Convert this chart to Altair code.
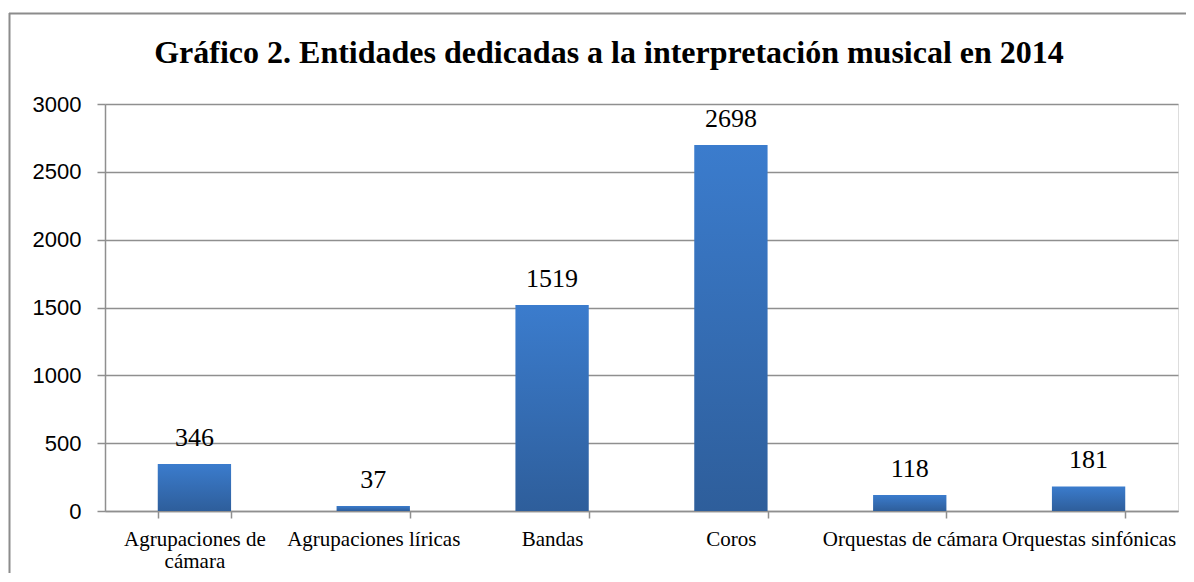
import altair as alt
import pandas as pd

categories = ["Agrupaciones de cámara", "Agrupaciones líricas", "Bandas", "Coros",
              "Orquestas de cámara", "Orquestas sinfónicas"]
values = [346, 37, 1519, 2698, 118, 181]
y_ticks = [0, 500, 1000, 1500, 2000, 2500, 3000]
title_text = "Gráfico 2. Entidades dedicadas a la interpretación musical en 2014"

df = pd.DataFrame({"cat": categories, "val": values})
one = pd.DataFrame({"a": [0]})

GRID = "#8f8f8f"
SERIF = "Liberation Serif"

x_enc = alt.X(
    "cat:N", sort=categories, title=None,
    scale=alt.Scale(paddingInner=0.59, paddingOuter=0.295),
    axis=alt.Axis(
        labelAngle=0, labelFont=SERIF, labelFontSize=21, labelColor="#000",
        labelBaseline="top", labelPadding=10, labelLineHeight=22, labelLimit=300,
        labelOverlap=False,
        tickBand="extent", tickSize=7, tickColor=GRID, tickWidth=1.5,
        domainColor=GRID, domainWidth=1.5, grid=False,
        labelExpr="datum.value == 'Agrupaciones de cámara' ? ['Agrupaciones de', 'cámara'] : datum.value",
    ),
)
y_enc = alt.Y(
    "val:Q", title=None,
    scale=alt.Scale(domain=[0, 3000], nice=False),
    axis=alt.Axis(
        values=y_ticks, format="d", labelFont="Liberation Sans", labelFontSize=22,
        labelColor="#000", labelPadding=16, tickSize=8, tickColor=GRID, tickWidth=1.5,
        domainColor=GRID, domainWidth=1.5, gridColor=GRID, gridWidth=1.5,
    ),
)

gradient = alt.LinearGradient(
    gradient="linear",
    stops=[alt.GradientStop(color="#3b7ccd", offset=0),
           alt.GradientStop(color="#2e5e9b", offset=1)],
    x1=0, x2=0, y1=0, y2=1,
)

bars = alt.Chart(df).mark_bar(color=gradient).encode(x=x_enc, y=y_enc)

labels = alt.Chart(df).mark_text(
    font=SERIF, fontSize=26, color="#000", dy=-18, baseline="alphabetic"
).encode(x=alt.X("cat:N", sort=categories), y="val:Q", text=alt.Text("val:Q", format="d"))

frame_top = alt.Chart(one).mark_rule(stroke="#8c8c8c", strokeWidth=2).encode(
    x=alt.value(-96), x2=alt.value(1081), y=alt.value(-90.5), y2=alt.value(-90.5)
)
frame_left = alt.Chart(one).mark_rule(stroke="#8c8c8c", strokeWidth=2).encode(
    x=alt.value(-95.5), x2=alt.value(-95.5), y=alt.value(-91), y2=alt.value(480)
)

title = alt.Chart(one).mark_text(
    text=title_text, font=SERIF, fontSize=32, fontWeight="bold", color="#000",
    align="center", baseline="alphabetic"
).encode(x=alt.value(504), y=alt.value(-41))

chart = alt.layer(frame_top, frame_left, bars, labels, title).properties(
    width=1073, height=407,
    autosize=alt.AutoSizeParams(type="none"),
    padding={"left": 97, "top": 96, "right": 8, "bottom": 62},
).configure_view(stroke=None).configure(background="white")

chart.save("out.html", embed_options={"renderer": "svg", "actions": False})
